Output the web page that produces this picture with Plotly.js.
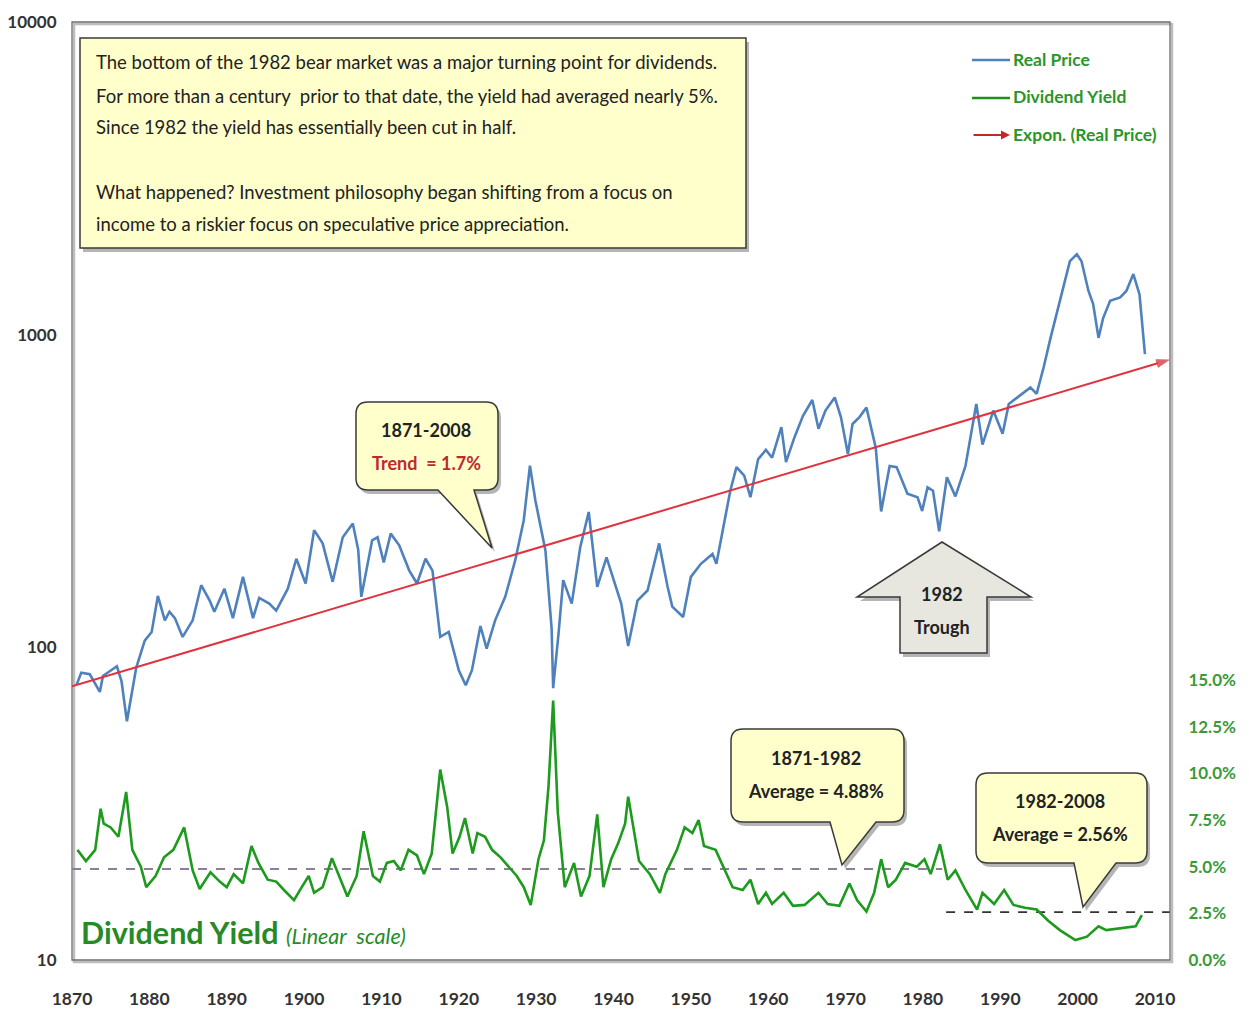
<!DOCTYPE html>
<html>
<head>
<meta charset="utf-8">
<script src="https://cdn.plot.ly/plotly-3.0.1.min.js"></script>
<style>html,body{margin:0;padding:0;background:#fff;}#chart{width:1249px;height:1021px;}</style>
</head>
<body>
<div id="chart"></div>
<script>
// ---------------- DATA ----------------
const priceYears = [1870.6,1871.2,1872.3,1873.6,1874.0,1875.8,1876.4,1877.1,1878.3,1879.4,1880.3,1881.1,1882.0,1882.6,1883.3,1884.3,1885.6,1886.7,1887.8,1888.4,1889.7,1890.8,1892.1,1893.4,1894.2,1895.5,1896.4,1897.9,1899.0,1900.2,1901.3,1902.4,1903.7,1905.0,1906.3,1907.0,1907.4,1908.8,1909.5,1910.3,1911.2,1912.3,1913.6,1914.6,1915.7,1916.6,1917.6,1918.7,1920.0,1920.9,1921.7,1922.8,1923.6,1924.7,1926.0,1927.3,1928.4,1929.2,1929.9,1931.2,1932.0,1932.2,1932.9,1933.5,1934.6,1935.7,1936.8,1937.9,1939.1,1940.0,1940.6,1941.0,1941.9,1943.1,1944.4,1945.9,1947.0,1947.6,1949.0,1950.0,1951.3,1952.8,1953.3,1954.3,1955.1,1955.9,1956.9,1957.7,1958.7,1959.7,1960.5,1961.7,1962.3,1963.4,1964.5,1965.7,1966.5,1967.4,1968.6,1969.4,1970.3,1970.9,1971.8,1972.7,1973.3,1973.9,1974.6,1975.7,1976.6,1978.0,1979.3,1979.9,1980.6,1981.3,1982.1,1983.1,1984.2,1985.5,1986.9,1987.7,1989.1,1990.3,1991.1,1992.2,1993.9,1994.7,1995.6,1996.5,1997.5,1998.2,1999.0,1999.9,2000.5,2001.4,2002.0,2002.7,2003.3,2004.2,2005.5,2006.3,2007.2,2008.0,2008.7];
const realPrice = [76,83,82,72,81,87,78,58,86,105,112,146,122,130,124,108,122,158,141,130,154,124,168,124,144,138,131,154,192,160,237,215,162,225,249,205,145,220,225,187,231,212,176,160,192,176,108,112,84.5,75.6,84.5,117,99,122,145,190,255,381,295,204,115,74,111,164,138,209,271,156,194,165,150,138,101,141,152,215,156,135,125,168,185,199,185,248,317,377,354,302,400,428,404,506,391,470,550,618,500,572,630,545,415,518,545,585,506,435,272,380,377,310,302,273,325,317,235,350,304,380,600,445,572,482,600,628,678,647,785,977,1222,1451,1718,1808,1718,1380,1255,977,1130,1283,1315,1380,1563,1345,867];

const yieldYears = [1870.7,1871.8,1873.0,1873.7,1874.1,1875.0,1876.0,1877.0,1877.8,1878.9,1879.6,1880.8,1881.9,1883.1,1884.5,1885.6,1886.5,1887.9,1889.1,1890.0,1890.9,1892.1,1893.2,1894.1,1895.3,1896.4,1897.4,1898.7,1899.7,1900.6,1901.3,1902.4,1903.6,1904.7,1905.6,1906.8,1907.7,1908.9,1909.8,1910.7,1911.6,1912.5,1913.5,1914.6,1915.5,1916.5,1917.6,1918.5,1919.2,1920.1,1920.8,1921.8,1922.4,1923.4,1924.3,1925.4,1926.4,1927.5,1928.4,1929.3,1930.3,1931.0,1931.6,1932.2,1932.8,1933.7,1934.9,1935.8,1936.9,1937.9,1938.7,1939.7,1940.6,1941.5,1941.9,1943.3,1944.7,1946.0,1946.7,1948.2,1949.2,1950.2,1951.0,1951.7,1953.2,1954.0,1955.4,1956.7,1957.7,1958.7,1959.7,1960.5,1962.0,1963.2,1964.7,1966.5,1967.7,1969.2,1970.5,1971.5,1972.7,1973.7,1974.6,1975.5,1976.5,1977.7,1979.2,1980.2,1981.0,1982.2,1983.2,1984.2,1985.5,1987.0,1987.7,1989.2,1990.5,1991.7,1993.2,1994.7,1996.2,1997.7,1999.7,2001.2,2002.7,2003.7,2005.7,2007.5,2008.3];
const dividendYield = [5.9,5.3,5.9,8.1,7.3,7.1,6.6,9.0,5.9,5.0,3.9,4.5,5.5,5.9,7.1,4.8,3.8,4.7,4.2,3.9,4.6,4.1,6.1,5.2,4.3,4.2,3.75,3.2,3.9,4.5,3.6,3.9,5.45,4.3,3.4,4.5,6.9,4.5,4.2,5.2,5.3,4.8,5.9,5.6,4.6,5.7,10.2,8.2,5.7,6.6,7.6,5.7,6.8,6.6,5.9,5.5,5.0,4.5,3.9,2.95,5.4,6.4,9.3,13.9,7.9,3.9,5.2,3.4,4.5,7.8,3.9,5.4,6.25,7.3,8.75,5.3,4.6,3.6,4.6,5.9,7.1,6.8,7.5,6.1,5.9,5.2,3.9,3.75,4.3,3.0,3.6,3.0,3.6,2.9,2.95,3.6,3.0,2.9,4.1,3.2,2.6,3.6,5.4,3.9,4.3,5.2,5.0,5.4,4.6,6.2,4.3,4.8,3.75,2.7,3.6,3.0,3.75,2.95,2.8,2.7,2.1,1.6,1.07,1.25,1.8,1.6,1.7,1.8,2.4];

const trendYears = [1870, 2011.8];
const trendValues = [75, 830];

const avg1Years = [1870, 1982.5];
const avg1Value = [4.88, 4.88];
const avg2Years = [1983, 2011.9];
const avg2Value = [2.56, 2.56];

const xTicks = [1870,1880,1890,1900,1910,1920,1930,1940,1950,1960,1970,1980,1990,2000,2010];
const yTicks = [10,100,1000,10000];
const yTickText = ['10','100','1000','10000'];
const y2Ticks = [0,2.5,5,7.5,10,12.5,15];
const y2TickText = ['0.0%','2.5%','5.0%','7.5%','10.0%','12.5%','15.0%'];

// ---------------- LAYOUT HELPERS ----------------
const W = 1249, H = 1021;
const L = 72, R = 1170, T = 22, B = 960;
const px = x => (x - L) / (R - L);
const py = y => (B - y) / (B - T);
function path(cmds, dx, dy) {
  dx = dx || 0; dy = dy || 0;
  let out = '', i = 0;
  while (i < cmds.length) {
    const c = cmds[i++];
    out += c;
    let n = (c === 'Q') ? 2 : (c === 'Z' ? 0 : 1);
    for (let k = 0; k < n; k++) {
      const x = cmds[i++], y = cmds[i++];
      out += (k ? ' ' : '') + px(x + dx).toFixed(5) + ',' + py(y + dy).toFixed(5);
    }
    out += ' ';
  }
  return out.trim();
}
function callout(x0, y0, x1, y1, r, bx0, bx1, tx, ty) {
  return ['M', x0 + r, y0, 'L', x1 - r, y0, 'Q', x1, y0, x1, y0 + r, 'L', x1, y1 - r, 'Q', x1, y1, x1 - r, y1,
          'L', bx1, y1, 'L', tx, ty, 'L', bx0, y1, 'L', x0 + r, y1, 'Q', x0, y1, x0, y1 - r, 'L', x0, y0 + r,
          'Q', x0, y0, x0 + r, y0, 'Z'];
}
const FONT = 'Lato, "Open Sans", "DejaVu Sans", sans-serif';
const FILL = '#FFFFCC';
const EDGE = '#3a3a3a';
const SHADOW = 'rgba(90,90,90,0.45)';
const GREEN = '#2a952a';

const shapes = [];
const annotations = [];
function shapePair(cmds, fill, layer) {
  shapes.push({type: 'path', xref: 'paper', yref: 'paper', path: path(cmds, 3, 4), fillcolor: SHADOW, line: {width: 0}, layer: layer || 'above'});
  shapes.push({type: 'path', xref: 'paper', yref: 'paper', path: path(cmds), fillcolor: fill, line: {color: EDGE, width: 1.5}, layer: layer || 'above'});
}
function txt(x, y, text, opts) {
  opts = opts || {};
  annotations.push(Object.assign({
    xref: 'paper', yref: 'paper', x: px(x), y: py(y), text: text, showarrow: false,
    xanchor: 'center', yanchor: 'middle',
    font: {family: FONT, size: 15, color: '#222'}
  }, opts));
}

// plot frame with shadow
shapes.push({type: 'rect', xref: 'paper', yref: 'paper', x0: px(L + 2), x1: px(R + 2), y0: py(B + 2), y1: py(T + 2), line: {color: '#bdbdbd', width: 2.5}, layer: 'below'});
shapes.push({type: 'rect', xref: 'paper', yref: 'paper', x0: 0, x1: 1, y0: 0, y1: 1, line: {color: '#6e6e6e', width: 1.3}, layer: 'below'});

// main text box
shapePair(['M', 80, 38, 'L', 746, 38, 'L', 746, 248, 'L', 80, 248, 'Z'], FILL);
const boxLines = [
  [62, 'The bottom of the 1982 bear market was a major turning point for dividends.'],
  [96, 'For more than a century  prior to that date, the yield had averaged nearly 5%.'],
  [127, 'Since 1982 the yield has essentially been cut in half.'],
  [192, 'What happened? Investment philosophy began shifting from a focus on'],
  [224, 'income to a riskier focus on speculative price appreciation.']
];
boxLines.forEach(l => txt(94, l[0], l[1], {xanchor: 'left', font: {family: FONT, size: 18.5, color: '#222'}}));

const CF = 18;
// trend callout
shapePair(callout(356, 402, 498, 490, 12, 438, 474, 492, 548), FILL);
txt(426, 430, '<b>1871-2008</b>', {font: {family: FONT, size: CF, color: '#222'}});
txt(426, 463, '<b>Trend  = 1.7%</b>', {font: {family: FONT, size: CF, color: '#c0282d'}});

// 1871-1982 callout
shapePair(callout(731, 729, 904, 822, 12, 830, 876, 842, 865), FILL);
txt(816, 758, '<b>1871-1982</b>', {font: {family: FONT, size: CF, color: '#222'}});
txt(816, 791, '<b>Average = 4.88%</b>', {font: {family: FONT, size: CF, color: '#222'}});

// 1982-2008 callout
shapePair(callout(976, 773, 1147, 863, 12, 1074, 1116, 1083, 907), FILL);
txt(1060, 801, '<b>1982-2008</b>', {font: {family: FONT, size: CF, color: '#222'}});
txt(1060, 834, '<b>Average = 2.56%</b>', {font: {family: FONT, size: CF, color: '#222'}});

// 1982 trough up-arrow
shapePair(['M', 942, 542, 'L', 1031, 597, 'L', 987, 597, 'L', 987, 653, 'L', 900, 653, 'L', 900, 597, 'L', 857, 597, 'Z'], '#e7e7df');
txt(942, 594, '<b>1982</b>', {font: {family: FONT, size: CF, color: '#222'}});
txt(942, 627, '<b>Trough</b>', {font: {family: FONT, size: CF, color: '#222'}});

// manual legend
shapes.push({type: 'line', xref: 'paper', yref: 'paper', x0: px(972), x1: px(1010), y0: py(60), y1: py(60), line: {color: '#4f81bd', width: 2.5}});
shapes.push({type: 'line', xref: 'paper', yref: 'paper', x0: px(972), x1: px(1010), y0: py(98), y1: py(98), line: {color: '#1e8f1e', width: 2.5}});
annotations.push({xref: 'paper', yref: 'paper', x: px(1010), y: py(135), ax: -38, ay: 0, text: '', showarrow: true,
  arrowhead: 2, arrowsize: 1, arrowwidth: 1.8, arrowcolor: '#c0282d'});
const LF = 17.5;
txt(1011, 59, '<b>Real Price</b>', {xanchor: 'left', font: {family: FONT, size: LF, color: GREEN}});
txt(1011, 97, '<b>Dividend Yield</b>', {xanchor: 'left', font: {family: FONT, size: LF, color: GREEN}});
txt(1011, 134, '<b>Expon. (Real Price)</b>', {xanchor: 'left', font: {family: FONT, size: LF, color: GREEN}});

// dividend yield label
txt(79, 932, '<b>Dividend Yield</b>', {xanchor: 'left', font: {family: FONT, size: 30.5, color: '#278a27'}});
txt(284, 936, '<i>(Linear  scale)</i>', {xanchor: 'left', font: {family: FONT, size: 21.5, color: '#278a27'}});

// ---------------- TRACES ----------------
const traces = [
  {x: avg1Years, y: avg1Value, yaxis: 'y2', mode: 'lines', line: {color: '#8e7d98', width: 2, dash: 'dash'}, hoverinfo: 'skip', showlegend: false},
  {x: avg2Years, y: avg2Value, yaxis: 'y2', mode: 'lines', line: {color: '#333333', width: 1.8, dash: 'dash'}, hoverinfo: 'skip', showlegend: false},
  {x: yieldYears, y: dividendYield, yaxis: 'y2', name: 'Dividend Yield', mode: 'lines', line: {color: '#1e9a1e', width: 2.6}, showlegend: false},
  {x: priceYears, y: realPrice, name: 'Real Price', mode: 'lines', line: {color: '#4f81bd', width: 2.6}, showlegend: false},
  {x: trendYears, y: trendValues, name: 'Expon. (Real Price)', mode: 'lines+markers',
   line: {color: '#e0323f', width: 2},
   marker: {symbol: 'arrow', angleref: 'previous', size: [0, 13], color: '#d0202a'}, showlegend: false}
];

const layout = {
  width: W, height: H,
  margin: {l: L, r: W - R, t: T, b: H - B},
  paper_bgcolor: '#ffffff', plot_bgcolor: '#ffffff',
  showlegend: false,
  xaxis: {range: [1870, 2011.94], tickvals: xTicks, ticktext: xTicks.map(String), showgrid: false, zeroline: false,
          showline: false, ticks: 'outside', ticklen: 23, tickcolor: 'rgba(0,0,0,0)', tickfont: {family: FONT, size: 17.5, color: '#333', weight: 'bold'}},
  yaxis: {type: 'log', range: [1, 4], tickvals: yTicks, ticktext: yTickText, showgrid: false, zeroline: false,
          showline: false, ticks: 'outside', ticklen: 11, tickcolor: 'rgba(0,0,0,0)', tickfont: {family: FONT, size: 17, color: '#333', weight: 'bold'}},
  yaxis2: {overlaying: 'y', side: 'right', range: [0, 50.24], tickvals: y2Ticks, ticktext: y2TickText, showgrid: false,
           zeroline: false, showline: false, ticks: 'outside', ticklen: 14, tickcolor: 'rgba(0,0,0,0)',
           tickfont: {family: FONT, size: 17, color: '#3a9a3a', weight: 'bold'}},
  shapes: shapes,
  annotations: annotations
};

Plotly.newPlot('chart', traces, layout, {displayModeBar: false, staticPlot: true});
</script>
</body>
</html>
